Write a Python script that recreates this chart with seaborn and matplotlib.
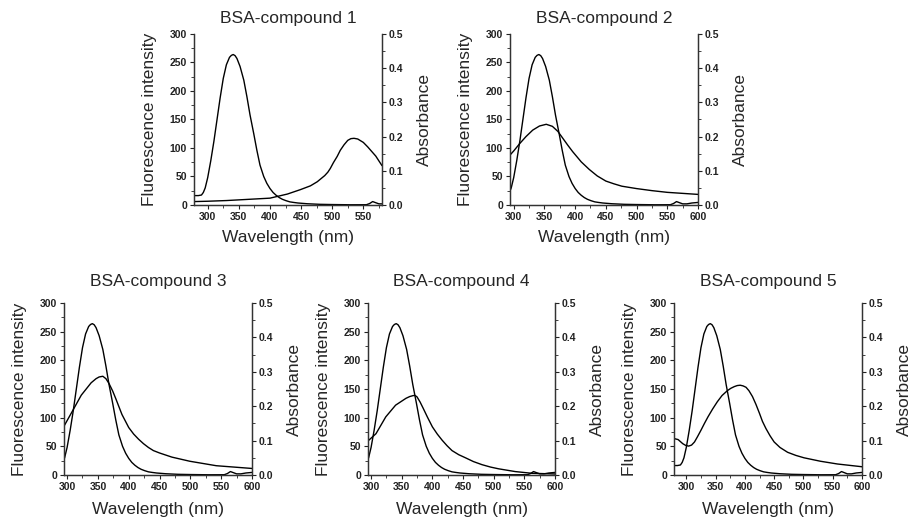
import matplotlib
matplotlib.use("Agg")
import matplotlib.pyplot as plt
import seaborn as sns
from matplotlib.ticker import MultipleLocator

# Fluorescence emission of BSA (same curve in every panel)
wl_fluor = [278, 285, 290, 293, 296, 300, 305, 310, 315, 320, 325, 330, 335, 338, 341,
            344, 347, 352, 358, 363, 368, 374, 379, 384, 390, 395, 400, 405, 410, 415,
            420, 426, 432, 438, 445, 460, 480, 500, 530, 555, 560, 565, 570, 575, 582,
            590, 600]
fluor = [16.5, 16.5, 17.5, 22, 30, 48, 78, 112, 150, 188, 222, 246, 259, 262.5, 264,
         262, 257, 243, 219, 190, 158, 125, 96, 70, 50, 38, 29, 22, 17, 13,
         10, 7.5, 5.5, 4.5, 3.5, 2.2, 1.2, 0.8, 0.4, 0.5, 2.5, 6, 4, 2, 2,
         3.5, 4.5]

# Absorbance spectra of the compounds
wl_abs_1 = [278, 300, 330, 360, 400, 428, 449, 465, 476, 488, 493, 497, 502, 508, 513, 519,
            525, 530, 535, 541, 550, 557, 570, 580]
abs_1 = [0.010, 0.011, 0.013, 0.016, 0.020, 0.032, 0.045, 0.056, 0.068, 0.086, 0.096, 0.107,
         0.124, 0.142, 0.160, 0.176, 0.189, 0.194, 0.195, 0.193, 0.183, 0.170, 0.143, 0.115]

wl_abs_2 = [294, 300, 310, 320, 331, 342, 353, 363, 372, 380, 388, 396, 410, 423, 436, 450,
            463, 476, 500, 525, 550, 575, 600]
abs_2 = [0.146, 0.158, 0.180, 0.200, 0.219, 0.231, 0.236, 0.230, 0.215, 0.195, 0.175, 0.156,
         0.126, 0.104, 0.085, 0.070, 0.062, 0.055, 0.048, 0.042, 0.037, 0.034, 0.031]

wl_abs_3 = [295, 300, 310, 323, 339, 347, 352, 358, 363, 368, 374, 379, 389, 400, 408, 416,
            424, 432, 440, 450, 470, 499, 542, 600]
abs_3 = [0.142, 0.158, 0.190, 0.232, 0.268, 0.280, 0.285, 0.287, 0.280, 0.266, 0.244, 0.222,
         0.176, 0.138, 0.119, 0.104, 0.091, 0.080, 0.071, 0.064, 0.052, 0.040, 0.027, 0.019]

wl_abs_4 = [295, 308, 324, 340, 357, 363, 369, 372, 375, 380, 385, 392, 400, 408, 416, 424,
            432, 443, 454, 467, 481, 495, 508, 535, 562, 600]
abs_4 = [0.099, 0.120, 0.169, 0.203, 0.223, 0.228, 0.231, 0.231, 0.227, 0.212, 0.194, 0.168,
         0.140, 0.119, 0.101, 0.085, 0.071, 0.059, 0.050, 0.039, 0.030, 0.023, 0.018, 0.010,
         0.005, 0.003]

wl_abs_5 = [279, 286, 294, 299, 304, 309, 314, 319, 325, 331, 337, 345, 353, 361, 370, 376,
            382, 387, 392, 397, 402, 407, 413, 419, 425, 430, 436, 443, 450, 460, 473, 487,
            501, 529, 558, 600]
abs_5 = [0.106, 0.103, 0.091, 0.086, 0.084, 0.087, 0.096, 0.111, 0.130, 0.150, 0.169, 0.192,
         0.213, 0.231, 0.245, 0.252, 0.257, 0.260, 0.261, 0.259, 0.255, 0.245, 0.228, 0.205,
         0.179, 0.156, 0.135, 0.114, 0.096, 0.080, 0.066, 0.057, 0.050, 0.040, 0.032, 0.024]

titles = ["BSA-compound 1", "BSA-compound 2", "BSA-compound 3", "BSA-compound 4", "BSA-compound 5"]
x_limits = [(278, 580), (294, 600), (295, 600), (295, 600), (279, 600)]
fluor_ticks = [0, 50, 100, 150, 200, 250, 300]
abs_ticks = [0.0, 0.1, 0.2, 0.3, 0.4, 0.5]

abs_wl = [wl_abs_1, wl_abs_2, wl_abs_3, wl_abs_4, wl_abs_5]
abs_vals = [abs_1, abs_2, abs_3, abs_4, abs_5]

sns.set_style("ticks")
plt.rcParams["font.family"] = ["Liberation Sans", "DejaVu Sans"]

W, H = 914, 525
fig = plt.figure(figsize=(W / 100, H / 100), dpi=100)

# axes boxes in pixels: left, right, top, bottom
boxes = [(194, 382, 34, 205), (510, 698, 34, 205),
         (64, 252, 303, 475), (368, 555, 303, 475), (674, 862, 303, 475)]

for i in range(5):
    l, r, t, b = boxes[i]
    top_row = i < 2
    ax = fig.add_axes([l / W, 1 - b / H, (r - l) / W, (b - t) / H])
    ax2 = ax.twinx()

    sns.lineplot(x=wl_fluor, y=fluor, ax=ax, color="black", linewidth=1)
    sns.lineplot(x=abs_wl[i], y=abs_vals[i], ax=ax2, color="black", linewidth=1)

    lo, hi = x_limits[i]
    ax.set_xlim(lo, hi)
    ax.set_ylim(0, 300)
    ax2.set_ylim(0, 0.5)

    xt = [x for x in range(300, 601, 50) if lo <= x <= hi]
    ax.set_xticks(xt)
    ax.set_xticklabels([str(x) for x in xt], fontweight="bold", fontsize=7.5)
    ax.set_yticks(fluor_ticks)
    ax.set_yticklabels([str(v) for v in fluor_ticks], fontweight="bold", fontsize=7.5)
    ax2.set_yticks(abs_ticks)
    ax2.set_yticklabels(["%.1f" % v for v in abs_ticks], fontweight="bold", fontsize=7.5)

    ax.xaxis.set_minor_locator(MultipleLocator(25))
    ax.yaxis.set_minor_locator(MultipleLocator(25))
    ax2.yaxis.set_minor_locator(MultipleLocator(0.05))

    for a in (ax, ax2):
        a.tick_params(which="major", length=3, width=0.8, direction="out", pad=2, colors="#222222")
        a.tick_params(which="minor", length=2, width=0.6, direction="out", colors="#222222")
        a.spines["top"].set_visible(False)
        for s in ("left", "right", "bottom"):
            a.spines[s].set_linewidth(0.9)
            a.spines[s].set_color("#333333")
    ax.spines["right"].set_visible(True)

    ax.set_xlabel("Wavelength (nm)", fontsize=12.5, labelpad=6 if top_row else 7)
    ax.set_ylabel("Fluorescence intensity", fontsize=12.5, labelpad=9)
    ax2.set_ylabel("Absorbance", fontsize=12.5, labelpad=10)
    ax.set_title(titles[i], fontsize=12.5, pad=8 if top_row else 12.5)

fig.savefig("out.png", dpi=100)
